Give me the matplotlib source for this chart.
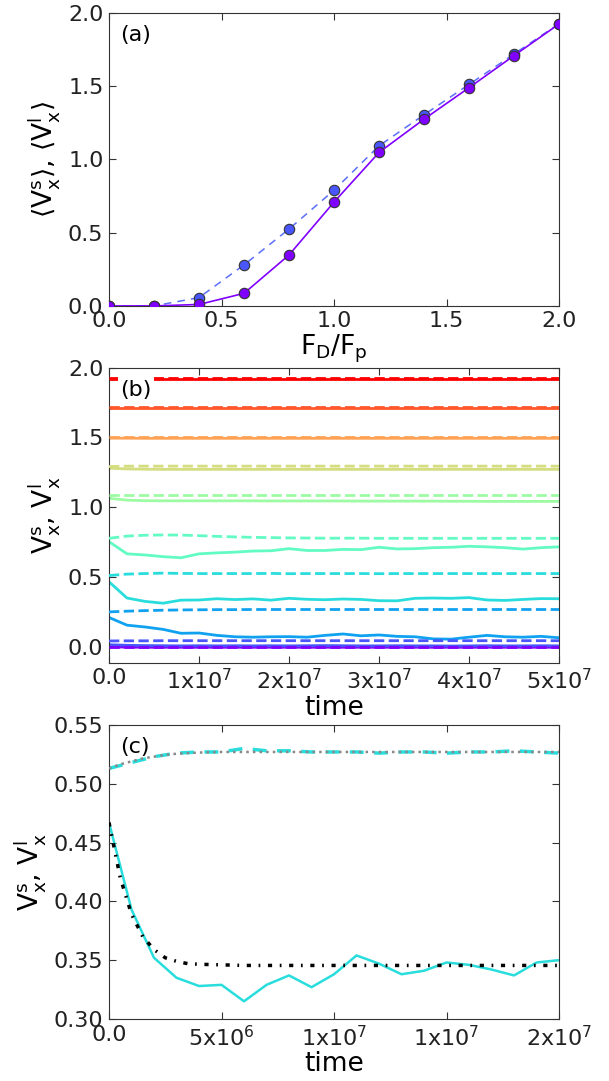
import matplotlib
matplotlib.use("Agg")
import matplotlib.pyplot as plt
import numpy as np

plt.rcParams['font.family'] = ['DejaVu Sans']
plt.rcParams['mathtext.fontset'] = 'dejavusans'
plt.rcParams['xtick.direction'] = 'in'
plt.rcParams['ytick.direction'] = 'in'
plt.rcParams['xtick.top'] = True
plt.rcParams['ytick.right'] = True
plt.rcParams['xtick.major.size'] = 5
plt.rcParams['ytick.major.size'] = 5
plt.rcParams['axes.edgecolor'] = '#333333'
plt.rcParams['xtick.color'] = '#333333'
plt.rcParams['ytick.color'] = '#333333'
plt.rcParams['xtick.labelcolor'] = '#222222'
plt.rcParams['ytick.labelcolor'] = '#222222'

# ---- panel (a): average velocities vs drive
FD = [0.0, 0.2, 0.4, 0.6, 0.8, 1.0, 1.2, 1.4, 1.6, 1.8, 2.0]
Vs_avg = [0.0, 0.0, 0.01, 0.086, 0.348, 0.709, 1.048, 1.275, 1.49, 1.709, 1.925]
Vl_avg = [0.0, 0.0, 0.057, 0.28, 0.525, 0.79, 1.093, 1.305, 1.512, 1.72, 1.927]

# ---- panel (b): time series, one per drive (0.2 ... 2.0), sampled every 2e6
t_b = [0, 2, 4, 6, 8, 10, 12, 14, 16, 18, 20, 22, 24, 26, 28, 30, 32, 34, 36, 38, 40, 42, 44, 46, 48, 50]  # x1e6
drives_b = [0.2, 0.4, 0.6, 0.8, 1.0, 1.2, 1.4, 1.6, 1.8, 2.0]
vs_02 = [0.003, 0.001, 0.0, 0.0, 0.0, 0.0, 0.0, 0.0, 0.0, 0.0, 0.0, 0.0, 0.0, 0.0, 0.0, 0.0, 0.0, 0.0, 0.0, 0.0, 0.0, 0.0, 0.0, 0.0, 0.0, 0.0]
vl_02 = [0.005, 0.005, 0.005, 0.005, 0.005, 0.005, 0.005, 0.005, 0.005, 0.005, 0.005, 0.005, 0.005, 0.005, 0.005, 0.005, 0.005, 0.005, 0.005, 0.005, 0.005, 0.005, 0.005, 0.005, 0.005, 0.005]
vs_04 = [0.018, 0.014, 0.012, 0.011, 0.010, 0.011, 0.010, 0.011, 0.010, 0.011, 0.010, 0.011, 0.012, 0.011, 0.010, 0.010, 0.011, 0.010, 0.010, 0.009, 0.010, 0.011, 0.010, 0.010, 0.011, 0.010]
vl_04 = [0.045, 0.046, 0.046, 0.047, 0.047, 0.047, 0.047, 0.047, 0.047, 0.047, 0.047, 0.047, 0.047, 0.047, 0.047, 0.047, 0.047, 0.047, 0.047, 0.047, 0.047, 0.047, 0.047, 0.047, 0.047, 0.047]
vs_06 = [0.213, 0.158, 0.145, 0.128, 0.100, 0.102, 0.085, 0.075, 0.072, 0.075, 0.076, 0.072, 0.085, 0.095, 0.082, 0.088, 0.078, 0.075, 0.060, 0.058, 0.072, 0.085, 0.075, 0.072, 0.078, 0.068]
vl_06 = [0.253, 0.258, 0.262, 0.265, 0.267, 0.268, 0.269, 0.269, 0.270, 0.270, 0.270, 0.270, 0.270, 0.270, 0.270, 0.270, 0.270, 0.270, 0.270, 0.270, 0.270, 0.270, 0.270, 0.270, 0.270, 0.270]
vs_08 = [0.468, 0.352, 0.328, 0.315, 0.337, 0.338, 0.347, 0.341, 0.346, 0.337, 0.350, 0.343, 0.340, 0.345, 0.342, 0.333, 0.332, 0.350, 0.352, 0.350, 0.355, 0.338, 0.335, 0.342, 0.348, 0.347]
vl_08 = [0.513, 0.523, 0.527, 0.530, 0.528, 0.527, 0.527, 0.527, 0.527, 0.528, 0.526, 0.527, 0.527, 0.527, 0.527, 0.526, 0.527, 0.527, 0.527, 0.527, 0.527, 0.527, 0.527, 0.527, 0.527, 0.527]
vs_10 = [0.755, 0.668, 0.660, 0.648, 0.640, 0.668, 0.675, 0.680, 0.688, 0.690, 0.705, 0.692, 0.692, 0.700, 0.698, 0.715, 0.703, 0.705, 0.712, 0.715, 0.722, 0.718, 0.712, 0.702, 0.712, 0.718]
vl_10 = [0.779, 0.795, 0.801, 0.803, 0.802, 0.798, 0.793, 0.789, 0.786, 0.784, 0.782, 0.781, 0.780, 0.780, 0.780, 0.779, 0.779, 0.779, 0.779, 0.779, 0.779, 0.779, 0.779, 0.779, 0.779, 0.779]
vs_12 = [1.065, 1.052, 1.048, 1.047, 1.047, 1.047, 1.047, 1.047, 1.047, 1.046, 1.046, 1.046, 1.046, 1.046, 1.045, 1.045, 1.045, 1.045, 1.045, 1.044, 1.044, 1.043, 1.043, 1.043, 1.043, 1.043]
vl_12 = [1.087, 1.087, 1.087, 1.087, 1.087, 1.087, 1.087, 1.087, 1.087, 1.087, 1.087, 1.087, 1.087, 1.087, 1.087, 1.087, 1.087, 1.087, 1.087, 1.087, 1.087, 1.087, 1.087, 1.087, 1.087, 1.087]
vs_14 = [1.280, 1.275, 1.273, 1.272, 1.272, 1.272, 1.272, 1.272, 1.272, 1.272, 1.272, 1.272, 1.272, 1.272, 1.272, 1.272, 1.272, 1.272, 1.272, 1.272, 1.272, 1.272, 1.272, 1.272, 1.272, 1.272]
vl_14 = [1.292, 1.295, 1.295, 1.295, 1.295, 1.295, 1.295, 1.295, 1.295, 1.295, 1.295, 1.295, 1.295, 1.295, 1.295, 1.295, 1.295, 1.295, 1.295, 1.295, 1.295, 1.295, 1.295, 1.295, 1.295, 1.295]
vs_16 = [1.495, 1.495, 1.494, 1.494, 1.494, 1.494, 1.494, 1.494, 1.494, 1.494, 1.494, 1.494, 1.494, 1.494, 1.494, 1.494, 1.494, 1.494, 1.494, 1.494, 1.494, 1.494, 1.494, 1.494, 1.494, 1.494]
vl_16 = [1.505, 1.505, 1.505, 1.505, 1.505, 1.505, 1.505, 1.505, 1.505, 1.505, 1.505, 1.505, 1.505, 1.505, 1.505, 1.505, 1.505, 1.505, 1.505, 1.505, 1.505, 1.505, 1.505, 1.505, 1.505, 1.505]
vs_18 = [1.709, 1.709, 1.709, 1.709, 1.709, 1.709, 1.709, 1.709, 1.709, 1.709, 1.709, 1.709, 1.709, 1.709, 1.709, 1.709, 1.709, 1.709, 1.709, 1.709, 1.709, 1.709, 1.709, 1.709, 1.709, 1.709]
vl_18 = [1.715, 1.715, 1.715, 1.715, 1.715, 1.715, 1.715, 1.715, 1.715, 1.715, 1.715, 1.715, 1.715, 1.715, 1.715, 1.715, 1.715, 1.715, 1.715, 1.715, 1.715, 1.715, 1.715, 1.715, 1.715, 1.715]
vs_20 = [1.918, 1.918, 1.918, 1.918, 1.918, 1.918, 1.918, 1.918, 1.918, 1.918, 1.918, 1.918, 1.918, 1.918, 1.918, 1.918, 1.918, 1.918, 1.918, 1.918, 1.918, 1.918, 1.918, 1.918, 1.918, 1.918]
vl_20 = [1.922, 1.922, 1.922, 1.922, 1.922, 1.922, 1.922, 1.922, 1.922, 1.922, 1.922, 1.922, 1.922, 1.922, 1.922, 1.922, 1.922, 1.922, 1.922, 1.922, 1.922, 1.922, 1.922, 1.922, 1.922, 1.922]
solid_b = [vs_02, vs_04, vs_06, vs_08, vs_10, vs_12, vs_14, vs_16, vs_18, vs_20]
dash_b = [vl_02, vl_04, vl_06, vl_08, vl_10, vl_12, vl_14, vl_16, vl_18, vl_20]

# ---- panel (c): F_D = 0.8 close-up, sampled every 1e6, plus fits
t_c = [0, 1, 2, 3, 4, 5, 6, 7, 8, 9, 10, 11, 12, 13, 14, 15, 16, 17, 18, 19, 20]  # x1e6
vs_c = [0.467, 0.393, 0.352, 0.335, 0.328, 0.329, 0.315, 0.329, 0.337, 0.327, 0.338, 0.354, 0.347, 0.338, 0.341, 0.348, 0.346, 0.342, 0.337, 0.348, 0.350]
vl_c = [0.513, 0.518, 0.523, 0.526, 0.527, 0.527, 0.530, 0.528, 0.528, 0.527, 0.527, 0.527, 0.526, 0.527, 0.527, 0.526, 0.527, 0.527, 0.528, 0.527, 0.526]
t_fit = [0, 0.5, 1, 1.5, 2, 2.5, 3, 3.5, 4, 5, 6, 8, 10, 15, 20]  # x1e6
fit_s = [0.467, 0.420, 0.389, 0.370, 0.359, 0.352, 0.349, 0.347, 0.3465, 0.346, 0.3455, 0.3455, 0.3455, 0.3455, 0.3455]
fit_l = [0.513, 0.5165, 0.519, 0.5215, 0.523, 0.5245, 0.5255, 0.526, 0.5265, 0.527, 0.527, 0.527, 0.527, 0.527, 0.527]

cols = plt.cm.rainbow(np.linspace(0, 1, len(drives_b)))

fig = plt.figure(figsize=(6.09, 10.81), dpi=100)
L, W = 0.179, 0.739
ax1 = fig.add_axes([L, 0.717, W, 0.271])
ax2 = fig.add_axes([L, 0.387, W, 0.273])
ax3 = fig.add_axes([L, 0.0574, W, 0.272])

tick_fs = 16
lab_fs = 19

# (a)
ax1.plot(FD, Vl_avg, color='#5b6ff8', lw=1.1, dashes=(5, 4))
ax1.plot(FD, Vl_avg, 'o', ms=7.5, mfc=cols[1], mec='#333333', mew=0.8, zorder=3)
ax1.plot(FD, Vs_avg, '-', color=cols[0], lw=1.2, marker='o', ms=7.5,
         mfc=cols[0], mec='#333333', mew=0.8, zorder=4)
ax1.set_xlim(0, 2)
ax1.set_ylim(0, 2)
ax1.set_xticks([0, 0.5, 1.0, 1.5, 2.0])
ax1.set_yticks([0, 0.5, 1.0, 1.5, 2.0])
ax1.set_xticklabels(['0.0', '0.5', '1.0', '1.5', '2.0'])
ax1.set_yticklabels(['0.0', '0.5', '1.0', '1.5', '2.0'])
ax1.set_xlabel(r'F$_\mathrm{D}$/F$_\mathrm{p}$', fontsize=lab_fs, labelpad=1)
ax1.set_ylabel(r'$\langle\mathrm{V}_\mathrm{x}^\mathrm{s}\rangle$, $\langle\mathrm{V}_\mathrm{x}^\mathrm{l}\rangle$', fontsize=lab_fs)
ax1.text(0.025, 0.925, '(a)', transform=ax1.transAxes, fontsize=tick_fs, va='center')

# (b)
tb = np.array(t_b) * 1e6
for i in range(len(drives_b)):
    ax2.plot(tb, solid_b[i], '-', color=cols[i], lw=2, zorder=2)
    ax2.plot(tb, dash_b[i], '--', color=cols[i], lw=2, zorder=3)
ax2.set_xlim(0, 5e7)
ax2.set_ylim(-0.11, 2.0)
ax2.set_xticks([0, 1e7, 2e7, 3e7, 4e7, 5e7])
ax2.set_xticklabels(['0.0', '1x10$^7$', '2x10$^7$', '3x10$^7$', '4x10$^7$', '5x10$^7$'])
ax2.set_yticks([0, 0.5, 1.0, 1.5, 2.0])
ax2.set_yticklabels(['0.0', '0.5', '1.0', '1.5', '2.0'])
ax2.set_xlabel('time', fontsize=lab_fs, labelpad=1)
ax2.set_ylabel(r'V$_\mathrm{x}^\mathrm{s}$, V$_\mathrm{x}^\mathrm{l}$', fontsize=lab_fs)
ax2.text(0.025, 0.925, '(b)', transform=ax2.transAxes, fontsize=tick_fs, va='center',
         bbox=dict(facecolor='white', edgecolor='none', pad=2), zorder=5)

# (c)
tc = np.array(t_c) * 1e6
tf = np.array(t_fit) * 1e6
c08 = cols[3]
ax3.plot(tc, vs_c, '-', color=c08, lw=1.8, zorder=2)
ax3.plot(tc, vl_c, '--', color=c08, lw=2.5, dashes=(4, 3), zorder=2)
ax3.plot(tf, fit_l, ':', color='#888888', lw=1.8, zorder=3)
ax3.plot(tf, fit_s, color='black', lw=2.5, dashes=(1.2, 2.2, 0.5, 2.2), zorder=3)
ax3.set_xlim(0, 2e7)
ax3.set_ylim(0.30, 0.55)
ax3.set_xticks([0, 5e6, 1e7, 1.5e7, 2e7])
ax3.set_xticklabels(['0.0', '5x10$^6$', '1x10$^7$', '1x10$^7$', '2x10$^7$'])
ax3.set_yticks([0.30, 0.35, 0.40, 0.45, 0.50, 0.55])
ax3.set_yticklabels(['0.30', '0.35', '0.40', '0.45', '0.50', '0.55'])
ax3.set_xlabel('time', fontsize=lab_fs, labelpad=1)
ax3.set_ylabel(r'V$_\mathrm{x}^\mathrm{s}$, V$_\mathrm{x}^\mathrm{l}$', fontsize=lab_fs)
ax3.text(0.025, 0.925, '(c)', transform=ax3.transAxes, fontsize=tick_fs, va='center')

for ax in (ax1, ax2, ax3):
    ax.tick_params(labelsize=tick_fs, pad=4)

fig.savefig('out.png', dpi=100)
